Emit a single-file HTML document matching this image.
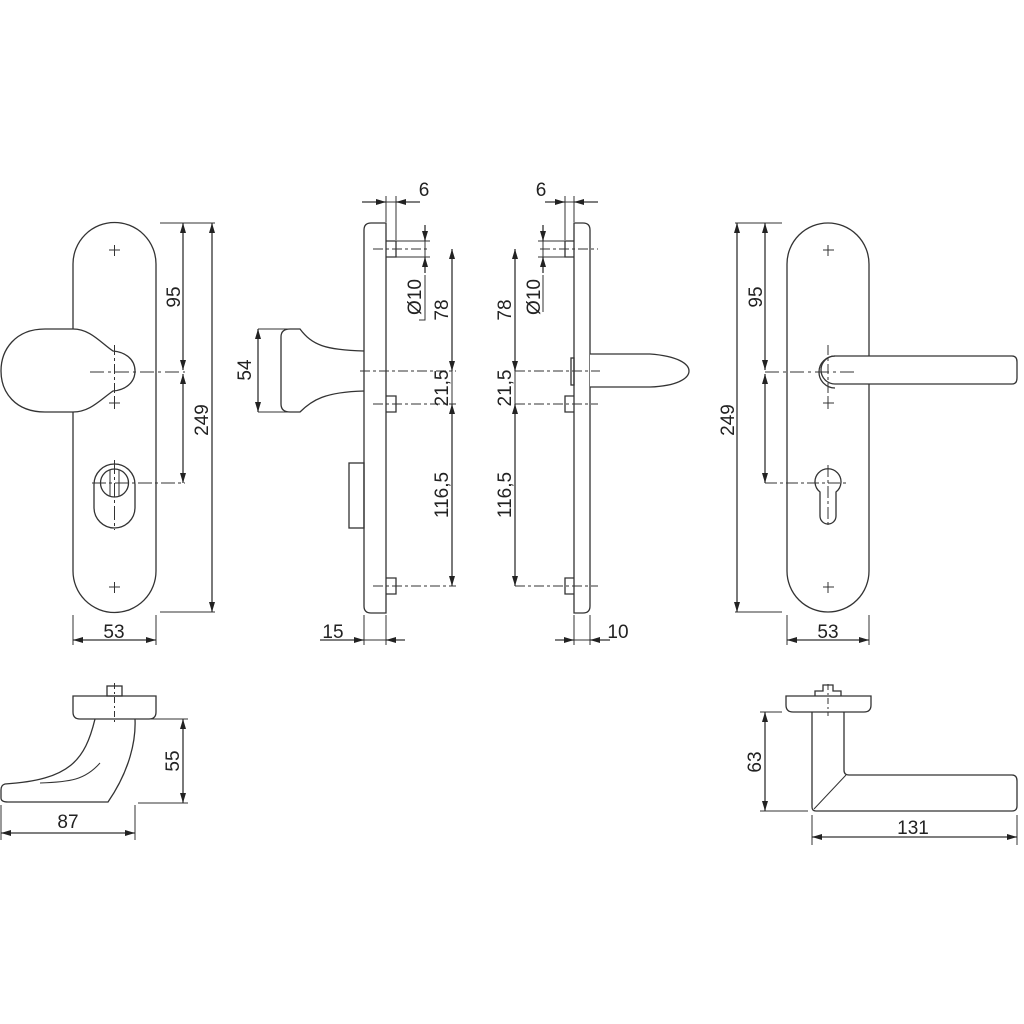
<!DOCTYPE html>
<html><head><meta charset="utf-8"><style>html,body{margin:0;padding:0;background:#fff}svg{display:block}</style></head>
<body>
<svg width="1024" height="1024" viewBox="0 0 1024 1024" xmlns="http://www.w3.org/2000/svg" font-family="Liberation Sans, Arial, sans-serif" font-size="19" fill="none" stroke="#333" stroke-width="1.3">
<defs>
<marker id="a" viewBox="0 0 10 6" refX="10" refY="3" markerWidth="10" markerHeight="6" orient="auto-start-reverse" markerUnits="userSpaceOnUse"><path d="M0,0 L10,3 L0,6 Z" fill="#222" stroke="none"/></marker>
</defs>
<g stroke="#333">
<!-- LEFT PLATE -->
<path d="M73,264 A41,41 0 0 1 156,264 L156,571 A41,41 0 0 1 73,571 Z"/>
<path d="M73,329 L45,329 C15,329 1,350 1,371 C1,392 15,412 45,412 L73,412 C90,412 100,400 113,391 C125,390 135,383 135,371 C135,359 125,352 113,351 C100,342 90,329 73,329 Z" fill="#fff"/>
<g stroke-width="1"><path d="M109,250h11M114.5,245v11M109,587h11M114.5,582v11M109,403h11M114.5,398v11"/></g>
<path d="M90,372H185" stroke-dasharray="14,4,3,4" stroke-width="1"/>
<path d="M114.5,345V400" stroke-dasharray="10,3,3,3" stroke-width="1"/>
<rect x="94" y="464" width="41" height="64" rx="20.5"/>
<circle cx="114.5" cy="483" r="14"/>
<path d="M110,470v26M119,470v26" stroke-width="1"/>
<path d="M92,483H185M114.5,460V530" stroke-width="1" stroke-dasharray="14,3,3,3"/>
<path d="M160,223H215M160,612H215" stroke-width="1"/>
<path d="M183,223V370" marker-start="url(#a)" marker-end="url(#a)"/>
<path d="M183,374V483" marker-start="url(#a)" marker-end="url(#a)"/>
<path d="M212,223V612" marker-start="url(#a)" marker-end="url(#a)"/>
<path d="M73,615V645M156,615V645" stroke-width="1"/>
<path d="M73,640H156" marker-start="url(#a)" marker-end="url(#a)"/>

<!-- SIDE VIEW 1 -->
<path d="M371,223H386V613H371Q364,613 364,606V230Q364,223 371,223Z"/>
<path d="M386,241h10v16h-10M386,396h10v16h-10M386,578h10v16h-10"/>
<path d="M290,329 L300,329 C312,345 325,350 364,351 M364,391 C325,392 312,400 300,412 L290,412 Q281,412 281,404 V337 Q281,329 290,329" fill="#fff"/>
<rect x="349" y="463" width="15" height="65"/>
<g stroke-width="1" stroke-dasharray="10,3,3,3"><path d="M373,249H428M373,404H456M373,586H456M360,371H456"/></g>
<path d="M396,241H430M396,257H430M386,196V222M396,196V240M258,329H290M258,412H290" stroke-width="1"/>
<path d="M362,202H386" marker-end="url(#a)"/><path d="M420,202H396" marker-end="url(#a)"/><path d="M386,202H396" stroke-width="1"/>
<path d="M425,225V241" marker-end="url(#a)"/><path d="M425,273V257" marker-end="url(#a)"/><path d="M425,241V257" stroke-width="1"/>
<path d="M419,320H425V275" stroke-width="1"/>
<path d="M452,249V371" marker-start="url(#a)" marker-end="url(#a)"/>
<path d="M452,371V404" stroke-width="1"/>
<path d="M452,404V586" marker-start="url(#a)" marker-end="url(#a)"/>
<path d="M258,329V412" marker-start="url(#a)" marker-end="url(#a)"/>
<path d="M364,615V645M386,615V645" stroke-width="1"/>
<path d="M320,640H364" marker-end="url(#a)"/><path d="M405,640H386" marker-end="url(#a)"/><path d="M364,640H386" stroke-width="1"/>

<!-- SIDE VIEW 2 -->
<path d="M574,223H583Q590,223 590,230V606Q590,613 583,613H574Z"/>
<path d="M574,241h-9v16h9M574,396h-9v16h9M574,578h-9v16h9"/>
<rect x="571" y="358" width="3" height="27"/>
<path d="M590,354 L650,354 C678,356 689,364 689,371 C689,378 678,386 650,387 L590,387" fill="#fff"/>
<g stroke-width="1" stroke-dasharray="10,3,3,3"><path d="M540,249H598M515,404H598M515,586H598M515,371H600"/></g>
<path d="M565,196V240M574,196V222M538,241H565M538,257H565" stroke-width="1"/>
<path d="M545,202H565" marker-end="url(#a)"/><path d="M598,202H574" marker-end="url(#a)"/><path d="M565,202H574" stroke-width="1"/>
<path d="M543,225V241" marker-end="url(#a)"/><path d="M543,273V257" marker-end="url(#a)"/><path d="M543,241V257" stroke-width="1"/>
<path d="M543,275V312" stroke-width="1"/>
<path d="M515,249V371" marker-start="url(#a)" marker-end="url(#a)"/>
<path d="M515,371V404" stroke-width="1"/>
<path d="M515,404V586" marker-start="url(#a)" marker-end="url(#a)"/>
<path d="M574,615V645M590,615V645" stroke-width="1"/>
<path d="M555,640H574" marker-end="url(#a)"/><path d="M610,640H590" marker-end="url(#a)"/><path d="M574,640H590" stroke-width="1"/>

<!-- RIGHT PLATE -->
<path d="M787,264 A41,41 0 0 1 869,264 L869,571 A41,41 0 0 1 787,571 Z"/>
<g stroke-width="1"><path d="M823,250h11M828,245v11M823,587h11M828,582v11M823,403h11M828,398v11"/></g>
<path d="M835,356 H1012 Q1017,356 1017,362 V378 Q1017,384 1012,384 H835" fill="#fff"/>
<path d="M835,356 A16,16 0 0 0 835,388" />
<path d="M835,356 A14,14 0 0 0 835,384"/>
<path d="M765,372H855" stroke-dasharray="14,4,3,4" stroke-width="1"/>
<path d="M828,345V398" stroke-dasharray="10,3,3,3" stroke-width="1"/>
<path d="M820,492 A13,13 0 1 1 836,492 V516 A8,8 0 0 1 820,516 Z"/>
<path d="M765,483H846M828,465V527" stroke-width="1" stroke-dasharray="12,3,3,3"/>
<path d="M735,223H782M735,612H782" stroke-width="1"/>
<path d="M765,223V370" marker-start="url(#a)" marker-end="url(#a)"/>
<path d="M765,374V483" marker-start="url(#a)" marker-end="url(#a)"/>
<path d="M737,223V612" marker-start="url(#a)" marker-end="url(#a)"/>
<path d="M787,615V645M869,615V645" stroke-width="1"/>
<path d="M787,640H869" marker-start="url(#a)" marker-end="url(#a)"/>

<!-- BOTTOM LEFT -->
<path d="M73,696H156V712Q156,719 149,719H80Q73,719 73,712Z"/>
<rect x="107" y="686" width="15" height="10"/>
<path d="M114.5,683V723" stroke-width="1" stroke-dasharray="6,3,2,3"/>
<path d="M95,719 C85,760 70,780 5,784 Q1,785 1,790 V798 Q1,802 8,802 L108,802 C130,770 136,740 135,719"/>
<path d="M100,763 C85,780 70,782 40,783" stroke-width="1"/>
<path d="M138,719H188M138,803H188" stroke-width="1"/>
<path d="M183,719V803" marker-start="url(#a)" marker-end="url(#a)"/>
<path d="M1,805V840M135,805V840" stroke-width="1"/>
<path d="M1,833H135" marker-start="url(#a)" marker-end="url(#a)"/>

<!-- BOTTOM RIGHT -->
<path d="M786,696H871V705Q871,712 864,712H793Q786,712 786,705Z"/>
<path d="M815,696v-5h8v-6h10v6h8v5" />
<path d="M828,684V716" stroke-width="1" stroke-dasharray="6,3,2,3"/>
<path d="M812,712V807Q812,811 816,811H1012Q1017,811 1017,806V781Q1017,775 1012,775H849Q844,775 844,770V712"/>
<path d="M846,775L814,809" stroke-width="1"/>
<path d="M760,712H782M760,811H808" stroke-width="1"/>
<path d="M765,712V811" marker-start="url(#a)" marker-end="url(#a)"/>
<path d="M812,815V845M1017,815V845" stroke-width="1"/>
<path d="M812,837H1017" marker-start="url(#a)" marker-end="url(#a)"/>
</g>

<g fill="#222" stroke="none">
<text x="114" y="638" text-anchor="middle">53</text>
<text x="828" y="638" text-anchor="middle">53</text>
<text x="333" y="638" text-anchor="middle">15</text>
<text x="618" y="638" text-anchor="middle">10</text>
<text x="424" y="196" text-anchor="middle">6</text>
<text x="541" y="196" text-anchor="middle">6</text>
<text x="68" y="828" text-anchor="middle">87</text>
<text x="913" y="834" text-anchor="middle">131</text>
<text transform="translate(180,297) rotate(-90)" text-anchor="middle">95</text>
<text transform="translate(208,420) rotate(-90)" text-anchor="middle">249</text>
<text transform="translate(762,297) rotate(-90)" text-anchor="middle">95</text>
<text transform="translate(734,420) rotate(-90)" text-anchor="middle">249</text>
<text transform="translate(251,370) rotate(-90)" text-anchor="middle">54</text>
<text transform="translate(421,297) rotate(-90)" text-anchor="middle">Ø10</text>
<text transform="translate(448,310) rotate(-90)" text-anchor="middle">78</text>
<text transform="translate(448,388) rotate(-90)" text-anchor="middle">21,5</text>
<text transform="translate(448,495) rotate(-90)" text-anchor="middle">116,5</text>
<text transform="translate(540,297) rotate(-90)" text-anchor="middle">Ø10</text>
<text transform="translate(511,310) rotate(-90)" text-anchor="middle">78</text>
<text transform="translate(511,388) rotate(-90)" text-anchor="middle">21,5</text>
<text transform="translate(511,495) rotate(-90)" text-anchor="middle">116,5</text>
<text transform="translate(179,761) rotate(-90)" text-anchor="middle">55</text>
<text transform="translate(761,762) rotate(-90)" text-anchor="middle">63</text>
</g>
</svg>
</body></html>
